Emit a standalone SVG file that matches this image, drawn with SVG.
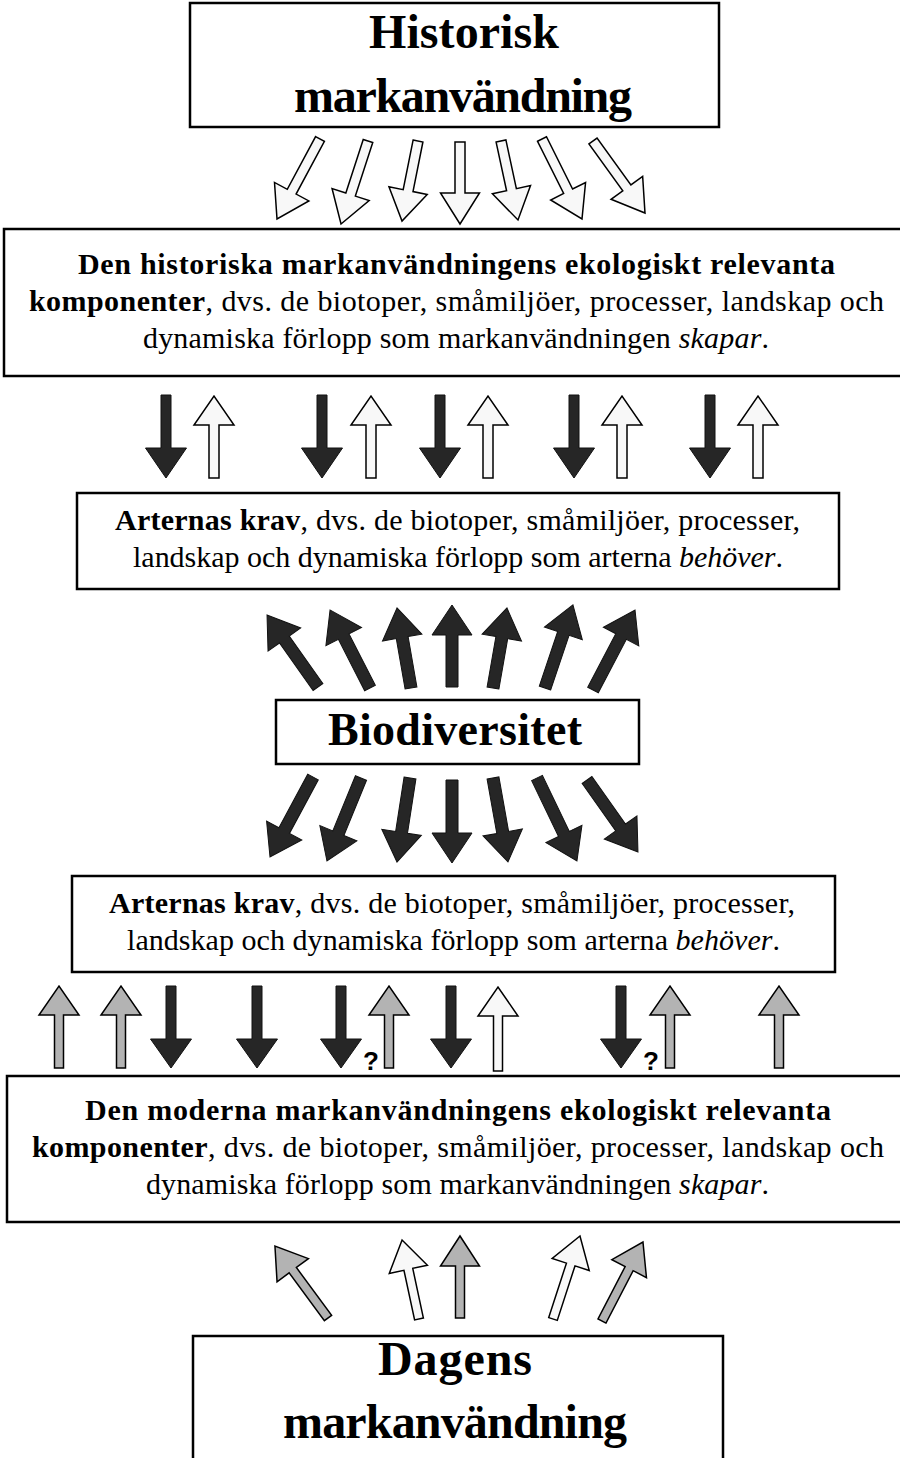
<svg xmlns="http://www.w3.org/2000/svg" width="900" height="1458" viewBox="0 0 900 1458">
<style>
.box{fill:#fff;stroke:#000;stroke-width:2.5}
.t{font-family:"Liberation Serif","DejaVu Serif",serif;fill:#000}
.title{font-size:48px;font-weight:bold}
.body{font-size:30px}
.b{font-weight:bold}
.i{font-style:italic}
.q{font-family:"Liberation Sans","DejaVu Sans",sans-serif;font-size:26px;font-weight:bold;fill:#000}
.aw{fill:#f8f8f8;stroke:#000;stroke-width:1.5;stroke-linejoin:miter}
.ad{fill:#262626;stroke:#111;stroke-width:1}
.ag{fill:#b3b3b3;stroke:#000;stroke-width:1.5}
</style>
<rect width="900" height="1458" fill="#fff"/>

<g id="historisk">
<rect class="box" x="190" y="3" width="529" height="124"/>
<text class="t title" x="369" y="48" textLength="190">Historisk</text>
<text class="t title" x="294" y="112" textLength="338">markanvändning</text>
</g>

<g id="historiska-komponenter">
<rect class="box" x="4" y="229" width="905" height="147"/>
<text class="t body" x="78" y="274" textLength="757"><tspan class="b">Den historiska markanvändningens ekologiskt relevanta</tspan></text>
<text class="t body" x="29" y="311" textLength="855"><tspan class="b">komponenter</tspan>, dvs. de biotoper, småmiljöer, processer, landskap och</text>
<text class="t body" x="143" y="348" textLength="626">dynamiska förlopp som markanvändningen <tspan class="i">skapar</tspan>.</text>
</g>

<g id="arternas-krav-1">
<rect class="box" x="77" y="493" width="762" height="96"/>
<text class="t body" x="115" y="530" textLength="685"><tspan class="b">Arternas krav</tspan>, dvs. de biotoper, småmiljöer, processer,</text>
<text class="t body" x="133" y="567" textLength="650">landskap och dynamiska förlopp som arterna <tspan class="i">behöver</tspan>.</text>
</g>

<g id="biodiversitet">
<rect class="box" x="276" y="700" width="363" height="64"/>
<text class="t title" x="328" y="745" textLength="254" style="font-size:46px">Biodiversitet</text>
</g>

<g id="arternas-krav-2">
<rect class="box" x="72" y="876" width="763" height="96"/>
<text class="t body" x="109" y="913" textLength="686"><tspan class="b">Arternas krav</tspan>, dvs. de biotoper, småmiljöer, processer,</text>
<text class="t body" x="127" y="950" textLength="653">landskap och dynamiska förlopp som arterna <tspan class="i">behöver</tspan>.</text>
</g>

<g id="moderna-komponenter">
<rect class="box" x="7" y="1076" width="905" height="146"/>
<text class="t body" x="85" y="1120" textLength="746"><tspan class="b">Den moderna markanvändningens ekologiskt relevanta</tspan></text>
<text class="t body" x="32" y="1157" textLength="852"><tspan class="b">komponenter</tspan>, dvs. de biotoper, småmiljöer, processer, landskap och</text>
<text class="t body" x="146" y="1194" textLength="623">dynamiska förlopp som markanvändningen <tspan class="i">skapar</tspan>.</text>
</g>

<g id="dagens">
<rect class="box" x="193" y="1336" width="530" height="140"/>
<text class="t title" x="378" y="1375" textLength="154">Dagens</text>
<text class="t title" x="283" y="1438" textLength="344">markanvändning</text>
</g>

<g id="connectors">
<!-- Historisk -> komponenter (white, slanted) -->
<polygon class="aw" transform="translate(320 139) rotate(28.26)" points="-5,0 5,0 5,59.8 19.5,59.8 0,90.8 -19.5,59.8 -5,59.8"/>
<polygon class="aw" transform="translate(368 141) rotate(18.0)" points="-5,0 5,0 5,56.3 19.5,56.3 0,87.3 -19.5,56.3 -5,56.3"/>
<polygon class="aw" transform="translate(418 141) rotate(11.3)" points="-5,0 5,0 5,50.6 19.5,50.6 0,81.6 -19.5,50.6 -5,50.6"/>
<polygon class="aw" transform="translate(460 142)" points="-5,0 5,0 5,51 19.5,51 0,82 -19.5,51 -5,51"/>
<polygon class="aw" transform="translate(501 141) rotate(-12.14)" points="-5,0 5,0 5,49.8 19.5,49.8 0,80.8 -19.5,49.8 -5,49.8"/>
<polygon class="aw" transform="translate(542 139) rotate(-26.57)" points="-5,0 5,0 5,58.4 19.5,58.4 0,89.4 -19.5,58.4 -5,58.4"/>
<polygon class="aw" transform="translate(593 141) rotate(-35.84)" points="-5,0 5,0 5,57.8 19.5,57.8 0,88.8 -19.5,57.8 -5,57.8"/>

<!-- pairs between historiska komponenter and arternas krav -->
<g class="ad">
<polygon transform="translate(166 395)" points="-5,0 5,0 5,53 20.5,53 0,83 -20.5,53 -5,53"/>
<polygon transform="translate(322 395)" points="-5,0 5,0 5,53 20.5,53 0,83 -20.5,53 -5,53"/>
<polygon transform="translate(440 395)" points="-5,0 5,0 5,53 20.5,53 0,83 -20.5,53 -5,53"/>
<polygon transform="translate(574 395)" points="-5,0 5,0 5,53 20.5,53 0,83 -20.5,53 -5,53"/>
<polygon transform="translate(710 395)" points="-5,0 5,0 5,53 20.5,53 0,83 -20.5,53 -5,53"/>
</g>
<g class="aw">
<polygon transform="translate(214 478) rotate(180)" points="-5,0 5,0 5,53 20,53 0,82 -20,53 -5,53"/>
<polygon transform="translate(371 478) rotate(180)" points="-5,0 5,0 5,53 20,53 0,82 -20,53 -5,53"/>
<polygon transform="translate(488 478) rotate(180)" points="-5,0 5,0 5,53 20,53 0,82 -20,53 -5,53"/>
<polygon transform="translate(622 478) rotate(180)" points="-5,0 5,0 5,53 20,53 0,82 -20,53 -5,53"/>
<polygon transform="translate(758 478) rotate(180)" points="-5,0 5,0 5,53 20,53 0,82 -20,53 -5,53"/>
</g>

<!-- Biodiversitet -> up -->
<g class="ad">
<polygon transform="translate(318 687) rotate(144.7)" points="-6,0 6,0 6,58.2 20,58.2 0,88.2 -20,58.2 -6,58.2"/>
<polygon transform="translate(370 688) rotate(152.9)" points="-6,0 6,0 6,57.7 20,57.7 0,87.7 -20,57.7 -6,57.7"/>
<polygon transform="translate(411 688) rotate(170.1)" points="-6,0 6,0 6,51.2 20,51.2 0,81.2 -20,51.2 -6,51.2"/>
<polygon transform="translate(452 687) rotate(180)" points="-6,0 6,0 6,52 20,52 0,82 -20,52 -6,52"/>
<polygon transform="translate(493 688) rotate(189.9)" points="-6,0 6,0 6,51.2 20,51.2 0,81.2 -20,51.2 -6,51.2"/>
<polygon transform="translate(545 688) rotate(198.6)" points="-6,0 6,0 6,57.6 20,57.6 0,87.6 -20,57.6 -6,57.6"/>
<polygon transform="translate(593 690) rotate(207.7)" points="-6,0 6,0 6,60.4 20,60.4 0,90.4 -20,60.4 -6,60.4"/>
</g>

<!-- Biodiversitet -> down -->
<g class="ad">
<polygon transform="translate(313 777) rotate(28.26)" points="-6,0 6,0 6,60.8 20,60.8 0,90.8 -20,60.8 -6,60.8"/>
<polygon transform="translate(361 778) rotate(22.3)" points="-6,0 6,0 6,59.7 20,59.7 0,89.7 -20,59.7 -6,59.7"/>
<polygon transform="translate(410 778) rotate(8.8)" points="-6,0 6,0 6,55 20,55 0,85 -20,55 -6,55"/>
<polygon transform="translate(452 780)" points="-6,0 6,0 6,53 20,53 0,83 -20,53 -6,53"/>
<polygon transform="translate(493 778) rotate(-10.1)" points="-6,0 6,0 6,55.3 20,55.3 0,85.3 -20,55.3 -6,55.3"/>
<polygon transform="translate(537 778) rotate(-25.7)" points="-6,0 6,0 6,62.1 20,62.1 0,92.1 -20,62.1 -6,62.1"/>
<polygon transform="translate(587 780) rotate(-35.3)" points="-6,0 6,0 6,58.2 20,58.2 0,88.2 -20,58.2 -6,58.2"/>
</g>

<!-- between arternas krav 2 and moderna komponenter -->
<g class="ag">
<polygon transform="translate(59 1068) rotate(180)" points="-4.5,0 4.5,0 4.5,53 20,53 0,82 -20,53 -4.5,53"/>
<polygon transform="translate(121 1068) rotate(180)" points="-4.5,0 4.5,0 4.5,53 20,53 0,82 -20,53 -4.5,53"/>
<polygon transform="translate(389 1068) rotate(180)" points="-4.5,0 4.5,0 4.5,53 20,53 0,82 -20,53 -4.5,53"/>
<polygon transform="translate(670 1068) rotate(180)" points="-4.5,0 4.5,0 4.5,53 20,53 0,82 -20,53 -4.5,53"/>
<polygon transform="translate(779 1068) rotate(180)" points="-4.5,0 4.5,0 4.5,53 20,53 0,82 -20,53 -4.5,53"/>
</g>
<polygon class="aw" transform="translate(498 1071) rotate(180)" points="-4.5,0 4.5,0 4.5,55 20,55 0,84 -20,55 -4.5,55"/>
<g class="ad">
<polygon transform="translate(171 986)" points="-5,0 5,0 5,53 20.5,53 0,82 -20.5,53 -5,53"/>
<polygon transform="translate(257 986)" points="-5,0 5,0 5,53 20.5,53 0,82 -20.5,53 -5,53"/>
<polygon transform="translate(341 986)" points="-5,0 5,0 5,53 20.5,53 0,82 -20.5,53 -5,53"/>
<polygon transform="translate(451 986)" points="-5,0 5,0 5,53 20.5,53 0,82 -20.5,53 -5,53"/>
<polygon transform="translate(621 986)" points="-5,0 5,0 5,53 20.5,53 0,82 -20.5,53 -5,53"/>
</g>
<text class="q" x="371" y="1070" text-anchor="middle">?</text>
<text class="q" x="651" y="1070" text-anchor="middle">?</text>

<!-- Dagens -> moderna komponenter -->
<polygon class="ag" transform="translate(328 1318) rotate(143.6)" points="-4.5,0 4.5,0 4.5,59.4 19.5,59.4 0,89.4 -19.5,59.4 -4.5,59.4"/>
<polygon class="aw" transform="translate(419 1319) rotate(167.9)" points="-4.5,0 4.5,0 4.5,50.8 19.5,50.8 0,80.8 -19.5,50.8 -4.5,50.8"/>
<polygon class="ag" transform="translate(460 1318) rotate(180)" points="-4.5,0 4.5,0 4.5,52 19.5,52 0,82 -19.5,52 -4.5,52"/>
<polygon class="aw" transform="translate(553 1319) rotate(198.0)" points="-4.5,0 4.5,0 4.5,57.3 19.5,57.3 0,87.3 -19.5,57.3 -4.5,57.3"/>
<polygon class="ag" transform="translate(602 1321) rotate(207.4)" points="-4.5,0 4.5,0 4.5,59 19.5,59 0,89 -19.5,59 -4.5,59"/>
</g>
</svg>
